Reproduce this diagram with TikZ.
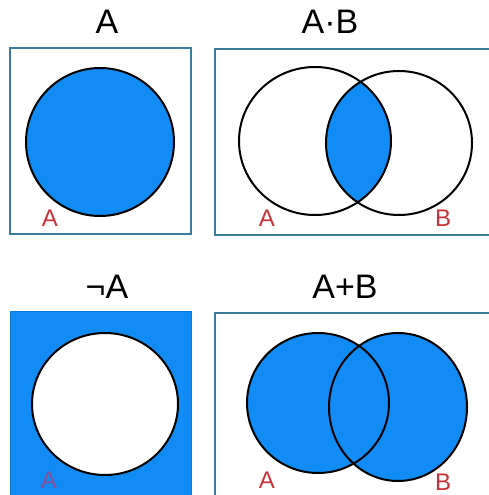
\documentclass[tikz,border=0pt]{standalone}
\usepackage{fontspec}
\newfontfamily\arialfont{Liberation Sans}
\usetikzlibrary{positioning}
\definecolor{cfill}{HTML}{128CF5}
\definecolor{cframe}{HTML}{3A7C9A}
\definecolor{clabel}{HTML}{C8323A}
\definecolor{cdim}{HTML}{8C4E96}
\tikzset{
  every picture/.style={font=\arialfont},
  frame/.style={draw=cframe, line width=2pt},
  set/.style={draw=black, line width=2pt},
  title/.style={font=\arialfont\fontsize{34}{38}\selectfont},
  setlabel/.style={font=\arialfont\fontsize{24}{28}\selectfont, text=clabel},
}

\begin{document}
\begin{tikzpicture}[x=1pt, y=-1pt]
  \useasboundingbox (0,0) rectangle (488,495);
  % ---------- A ----------
  \node[title] (tA) at (107,22) {A};
  \draw[frame] (10,48) rectangle (191,234);
  \fill[cfill] (100,142) circle (74pt);
  \draw[set] (100,142) circle (74pt);
  \node[setlabel] (lA1) at (50,218) {A};
  % ---------- A.B ----------
  \node[title] (tAB) at (330,22) {A·B};
  \draw[frame] (215,49) rectangle (500,235);
  \begin{scope}
    \clip (315,141) ellipse [x radius=76pt, y radius=74pt];
    \fill[cfill] (399,143) ellipse [x radius=73pt, y radius=72pt];
  \end{scope}
  \draw[set] (315,141) ellipse [x radius=76pt, y radius=74pt];
  \draw[set] (399,143) ellipse [x radius=73pt, y radius=72pt];
  \node[setlabel] (lA2) at (267,218) {A};
  \node[setlabel] (lB2) at (443,218) {B};
  % ---------- not A ----------
  \node[title] (tNotA) at (107,287) {¬A};
  \fill[cfill] (10,311) rectangle (191,500);
  \draw[draw=cfill!85!black, line width=0.8pt] (10,500) -- (10,311) -- (191,311) -- (191,500);
  \fill[white] (105,404) ellipse [x radius=73pt, y radius=71pt];
  \draw[set] (105,404) ellipse [x radius=73pt, y radius=71pt];
  \node[setlabel, text=cdim] (lA3) at (49,480) {A};
  % ---------- A+B ----------
  \node[title] (tAorB) at (345,287) {A+B};
  \draw[frame] (215,313) rectangle (500,500);
  \fill[cfill] (318,403) ellipse [x radius=71pt, y radius=70pt];
  \fill[cfill] (398,407) ellipse [x radius=69pt, y radius=74pt];
  \draw[set] (318,403) ellipse [x radius=71pt, y radius=70pt];
  \draw[set] (398,407) ellipse [x radius=69pt, y radius=74pt];
  \node[setlabel] (lA4) at (267,480) {A};
  \node[setlabel] (lB4) at (443,482) {B};
\end{tikzpicture}
\end{document}
